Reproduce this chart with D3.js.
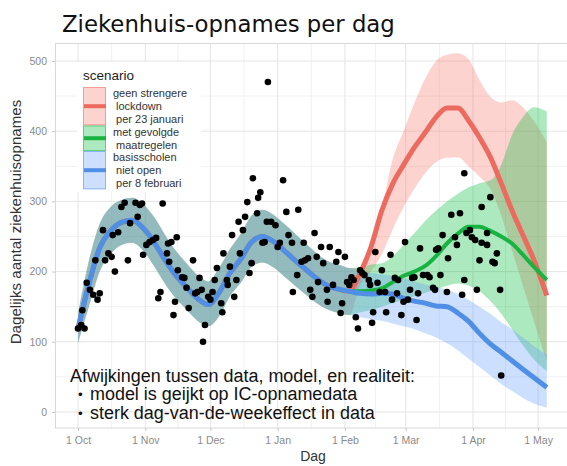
<!DOCTYPE html>
<html>
<head>
<meta charset="utf-8">
<script src="https://cdn.jsdelivr.net/npm/d3@7"></script>
<style>
body { margin: 0; background: #fff; }
svg { display: block; }
text { font-family: "Liberation Sans", Arial, sans-serif; }
</style>
</head>
<body>
<div id="chart"></div>
<script>
// days are counted from 1 Oct 2020
// model fit on the past, the same for every scenario
var histDay = [0, 5, 10, 15, 20, 25, 30, 35, 40, 45, 50, 55, 60, 65, 70, 75, 80, 85, 90, 95, 100, 105, 110, 115, 120, 125];
var histMid = [118, 182, 234, 258, 270, 273, 262, 242, 217, 195, 178, 162, 153, 170, 198, 218, 242, 250, 243, 230, 216, 203, 190, 180, 175, 172];
var histLo  = [98, 150, 200, 225, 238, 241, 230, 208, 183, 162, 146, 130, 122, 136, 165, 184, 207, 213, 206, 193, 180, 167, 155, 146, 141, 138];
var histHi  = [140, 215, 268, 292, 302, 305, 296, 278, 253, 230, 212, 195, 186, 205, 232, 254, 280, 288, 281, 268, 254, 240, 226, 215, 210, 205];

// scenario projections
var futDay   = [130, 135, 140, 145, 150, 155, 160, 165, 170, 175, 180, 185, 190, 195, 200, 205, 210, 216];
var redMid   = [198, 235, 287, 325, 352, 377, 398, 420, 433, 433, 415, 391, 363, 326, 287, 252, 217, 166];
var redLo    = [180, 200, 225, 260, 292, 318, 340, 356, 362, 363, 350, 335, 318, 280, 230, 180, 130, 72];
var redHi    = [205, 235, 290, 360, 400, 440, 475, 500, 509, 511, 502, 473, 449, 441, 444, 434, 415, 385];
var greenMid = [172, 173, 176, 185, 194, 200, 208, 222, 240, 254, 264, 264, 258, 250, 240, 224, 207, 188];
var greenLo  = [142, 145, 150, 155, 160, 165, 170, 175, 180, 183, 180, 172, 158, 140, 118, 95, 75, 58];
var greenHi  = [206, 210, 212, 222, 238, 255, 272, 287, 300, 311, 320, 326, 330, 352, 395, 420, 434, 428];
var blueMid  = [169, 168, 169, 168, 162, 158, 155, 151, 150, 141, 129, 112, 97, 85, 73, 61, 49, 35];
var blueLo   = [135, 132, 130, 126, 122, 118, 112, 106, 98, 88, 76, 64, 52, 40, 30, 20, 12, 6];
var blueHi   = [202, 198, 196, 194, 190, 186, 182, 178, 174, 168, 160, 150, 140, 128, 118, 106, 94, 82];

// daily hospital admissions
var obsDay = [0, 1.5, 3, 2, 4, 5.5, 7, 9, 10, 8, 11.5, 12.5, 14, 15.5, 16, 17, 18.5, 20, 21.5, 23,
  24, 26.5, 27.5, 28.5, 29.5, 30, 31.5, 33, 34.5, 36, 37, 38, 39, 41, 41.5, 42, 43, 44, 44.7, 45.5,
  46, 48, 49, 50, 51, 53, 54,
  55, 56, 57, 57.6, 58.5, 60, 61, 62, 63, 64, 66, 66.5, 67, 68.6, 69, 70, 71, 72, 73, 74,
  74.6, 76, 77, 78, 79, 80, 80.6, 82.5, 83, 84, 85, 86, 87, 87.5, 89, 91, 92, 93, 94.5, 96,
  97, 98.6, 99, 101, 101.5, 103, 104, 104.6, 106, 107, 108, 109, 110, 110.6, 112, 113, 114.7, 115,
  116, 120, 123, 119, 117.5, 121.7, 126, 124, 125, 127, 130, 131, 132, 121, 128, 129, 134, 134.6, 135.5, 136,
  137, 138, 140, 139, 141.5, 142, 144, 144.7, 146, 147, 147.5, 149, 150, 150.7, 152, 153, 154, 155, 156, 156.7,
  157.6, 159, 161, 162, 163.6, 164.5, 165, 166, 167, 168, 170, 170.5, 172, 173.7, 174.6, 176,
  177, 178, 178, 179, 180.6, 181.5, 183, 183.8, 185, 186, 186, 188.5, 188.5, 190, 191, 192, 193, 194.5, 195];
var obsVal = [119, 124, 119, 145, 184, 174, 167, 160, 169, 216, 259, 216, 226, 221, 252, 200, 256, 292, 298, 216,
  269, 298, 278, 295, 297, 224, 238, 242, 245, 248, 162, 171, 297, 226, 240, 214, 242, 138, 157, 249,
  202, 192, 191, 177, 148, 216, 169,
  171, 191, 174, 100, 124, 164, 160, 171, 188, 205, 155, 142, 226, 188, 181, 207, 252, 164, 188, 271,
  226, 259, 278, 299, 198, 212, 333, 283, 305, 313, 241, 242, 271, 470, 271, 266, 235, 241, 330, 285,
  252, 241, 171, 195, 288, 214, 241, 216, 219, 174, 164, 255, 221, 185, 235, 212, 174, 157,
  235, 228, 221, 214, 181, 155, 192, 185, 181, 188, 202, 198, 195, 141, 135, 119, 188, 181, 127, 142,
  228, 184, 202, 171, 171, 142, 224, 160, 191, 169, 188, 138, 157, 242, 160, 174, 191, 192, 131, 169,
  233, 195, 195, 192, 177, 174, 231, 233, 195, 252, 171, 219, 281, 249, 238, 283,
  167, 188, 340, 255, 259, 249, 245, 174, 216, 241, 292, 255, 238, 306, 214, 212, 226, 174, 52];

var scenarioNames = ["red", "green", "blue"];
var scenarioLabels = [["geen strengere", " lockdown", " per 23 januari"],
                      ["met gevolgde", " maatregelen"],
                      ["basisscholen", " niet open", " per 8 februari"]];
var scenarioLine = ["#ec6a5e", "#19b341", "#508fe6"];
var scenarioFill = ["rgba(248,118,109,0.32)", "rgba(0,186,56,0.32)", "rgba(97,156,255,0.32)"];
var yTicks = [0, 100, 200, 300, 400, 500];

var width = 567, height = 466;
var start = Date.UTC(2020, 9, 1);
function toDate(d) { return new Date(start + d * 864e5); }

var x = d3.scaleUtc().domain([toDate(-10.6), toDate(235)]).range([55, 588]);
var y = d3.scaleLinear().domain([-22.8, 525.6]).range([428, 43]);

var svg = d3.select("#chart").append("svg")
    .attr("width", width)
    .attr("height", height);

svg.append("clipPath").attr("id", "panel")
  .append("rect").attr("x", 55).attr("y", 43).attr("width", 600).attr("height", 385);

// grid
var months = d3.utcMonth.range(toDate(0), toDate(213));
var minorX = [];
for (var i = 0; i < months.length; i++) {
    var nxt = i < months.length - 1 ? months[i + 1] : d3.utcMonth.offset(months[i], 1);
    minorX.push(new Date((+months[i] + +nxt) / 2));
}
var grid = svg.append("g").attr("clip-path", "url(#panel)");
grid.selectAll(".minx").data(minorX).enter().append("line")
    .attr("x1", function(d) { return x(d); }).attr("x2", function(d) { return x(d); })
    .attr("y1", 43).attr("y2", 428).attr("stroke", "#f1f1f1");
grid.selectAll(".miny").data([50, 150, 250, 350, 450]).enter().append("line")
    .attr("x1", 55).attr("x2", 600)
    .attr("y1", function(d) { return y(d); }).attr("y2", function(d) { return y(d); })
    .attr("stroke", "#f1f1f1");
grid.selectAll(".majx").data(months).enter().append("line")
    .attr("x1", function(d) { return x(d); }).attr("x2", function(d) { return x(d); })
    .attr("y1", 43).attr("y2", 428).attr("stroke", "#e4e4e4");
grid.selectAll(".majy").data(yTicks).enter().append("line")
    .attr("x1", 55).attr("x2", 600)
    .attr("y1", function(d) { return y(d); }).attr("y2", function(d) { return y(d); })
    .attr("stroke", "#e4e4e4");
svg.append("rect")
    .attr("x", 55.5).attr("y", 43.5).attr("width", 600).attr("height", 384.5)
    .attr("fill", "none").attr("stroke", "#d8d8d8");

// axes
var xAxis = svg.append("g")
    .attr("transform", "translate(0,428)")
    .call(d3.axisBottom(x).tickValues(months).tickFormat(d3.utcFormat("%-d %b")).tickSize(3).tickPadding(6));
var yAxis = svg.append("g")
    .attr("transform", "translate(55,0)")
    .call(d3.axisLeft(y).tickValues(yTicks).tickSize(3).tickPadding(5));
[xAxis, yAxis].forEach(function(a) {
    a.select(".domain").remove();
    a.selectAll(".tick line").attr("stroke", "#c8c8c8");
    a.selectAll(".tick text").attr("fill", "#8a8a8a")
        .style("font-family", "'Liberation Sans', Arial, sans-serif").style("font-size", "10.5px");
});

// scenario series = shared fit + own projection
var fut = {red: [redMid, redLo, redHi], green: [greenMid, greenLo, greenHi], blue: [blueMid, blueLo, blueHi]};
var series = scenarioNames.map(function(nm) {
    var f = fut[nm];
    var pts = histDay.map(function(d, i) { return {day: d, mid: histMid[i], lo: histLo[i], hi: histHi[i]}; });
    futDay.forEach(function(d, i) { pts.push({day: d, mid: f[0][i], lo: f[1][i], hi: f[2][i]}); });
    return pts;
});

var area = d3.area()
    .x(function(d) { return x(toDate(d.day)); })
    .y0(function(d) { return y(d.lo); })
    .y1(function(d) { return y(d.hi); })
    .curve(d3.curveMonotoneX);
var line = d3.line()
    .x(function(d) { return x(toDate(d.day)); })
    .y(function(d) { return y(d.mid); })
    .curve(d3.curveMonotoneX);

var plot = svg.append("g").attr("clip-path", "url(#panel)");
series.forEach(function(s, i) {
    plot.append("path").datum(s).attr("d", area).attr("fill", scenarioFill[i]);
});
series.forEach(function(s, i) {
    plot.append("path").datum(s).attr("d", line)
        .attr("fill", "none").attr("stroke", scenarioLine[i])
        .attr("stroke-width", i == 1 ? 4 : 5).attr("stroke-linejoin", "round");
});

plot.selectAll(".dot").data(obsDay).enter().append("circle")
    .attr("cx", function(d) { return x(toDate(d)); })
    .attr("cy", function(d, i) { return y(obsVal[i]); })
    .attr("r", 3.3)
    .attr("fill", "#000");

// legend
var leg = svg.append("g");
leg.append("rect").attr("x", 77).attr("y", 62).attr("width", 124).attr("height", 130).attr("fill", "#fff");
leg.append("text").attr("x", 83).attr("y", 80).text("scenario")
    .style("font-size", "13.5px").attr("fill", "#222");
var lh = 12.8, keyY = 87;
scenarioLabels.forEach(function(lbl, i) {
    var h = lbl.length * lh;
    leg.append("rect").attr("x", 83.5).attr("y", keyY + 0.5).attr("width", 22).attr("height", h - 1)
        .attr("fill", scenarioFill[i]).attr("stroke", scenarioLine[i]).attr("stroke-opacity", 0.6);
    leg.append("line").attr("x1", 84).attr("x2", 106)
        .attr("y1", keyY + h / 2).attr("y2", keyY + h / 2)
        .attr("stroke", scenarioLine[i]).attr("stroke-width", 4);
    lbl.forEach(function(t, j) {
        leg.append("text").attr("x", 113).attr("y", keyY + lh * (j + 0.5) + 4)
            .attr("xml:space", "preserve").style("white-space", "pre")
            .style("font-size", "11px").attr("fill", "#333").text(t);
    });
    keyY += h;
});

function fitWidth(sel, w) {
    var fs = parseFloat(sel.style("font-size"));
    var len = sel.node().getComputedTextLength();
    sel.style("font-size", (fs * w / len) + "px");
    return fs * w / len;
}

// title and axis titles
var title = svg.append("text").attr("x", 62).attr("y", 32)
    .style("font-family", "'DejaVu Sans', Verdana, sans-serif").style("font-size", "22px")
    .attr("fill", "#111").text("Ziekenhuis-opnames per dag");
fitWidth(title, 333);

svg.append("text").attr("x", 313).attr("y", 461).attr("text-anchor", "middle")
    .style("font-size", "14px").attr("fill", "#333").text("Dag");
var ytitle = svg.append("text").attr("transform", "translate(21,222) rotate(-90)")
    .attr("text-anchor", "middle").style("font-size", "13.5px").attr("fill", "#333")
    .text("Dagelijks aantal ziekenhuisopnames");
fitWidth(ytitle, 245);

// note
var note = svg.append("g").style("font-family", "'DejaVu Sans', Verdana, sans-serif").attr("fill", "#111");
var n3 = note.append("text").attr("x", 90).attr("y", 419).style("font-size", "14px")
    .text("sterk dag-van-de-weekeffect in data");
var fs = fitWidth(n3, 285);
note.append("text").attr("x", 70).attr("y", 382).style("font-size", fs + "px")
    .text("Afwijkingen tussen data, model, en realiteit:");
note.append("text").attr("x", 90).attr("y", 400).style("font-size", fs + "px")
    .text("model is geijkt op IC-opnamedata");
[400, 419].forEach(function(b) {
    note.append("text").attr("x", 78).attr("y", b - 1).style("font-size", (fs * 0.75) + "px").text("\u2022");
});
</script>
</body>
</html>
